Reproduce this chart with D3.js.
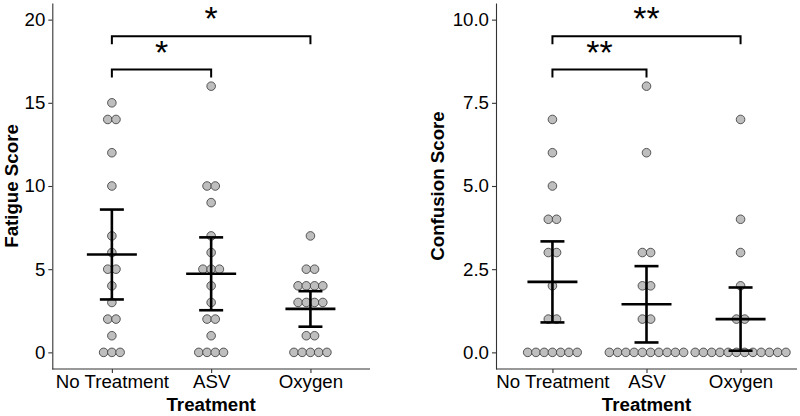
<!DOCTYPE html>
<html>
<head>
<meta charset="utf-8">
<script src="https://cdn.jsdelivr.net/npm/d3@7"></script>
<style>
  html, body { margin: 0; padding: 0; background: #fff; }
  svg { display: block; font-family: "Liberation Sans", Arial, Helvetica, sans-serif; }
</style>
</head>
<body>
<svg id="chart" width="800" height="416"></svg>
<script>
// ---- Data ----
const categories = ["No Treatment", "ASV", "Oxygen"];

const fatigueNoTreatment = [15,14,14,12,10,7,6,5,5,4,3,2,2,1,0,0,0];
const fatigueASV         = [16,10,10,9,7,6,5,5,5,4,3,2,2,1,0,0,0,0];
const fatigueOxygen      = [7,5,5,4,4,4,4,3,3,3,3,1,1,0,0,0,0,0];

const confusionNoTreatment = [7,6,5,4,4,3,3,2,1,1,0,0,0,0,0,0,0];
const confusionASV         = [8,6,3,3,2,2,1,1,0,0,0,0,0,0,0,0,0,0];
const confusionOxygen      = [7,4,3,2,1,1,0,0,0,0,0,0,0,0,0,0,0,0];

const fatigueTicks   = [0, 5, 10, 15, 20];
const confusionTicks = [0, 2.5, 5, 7.5, 10];

// significance comparisons: [from, to, bar level, label]
const fatigueSig   = [["No Treatment","ASV",17,"*"], ["No Treatment","Oxygen",19,"*"]];
const confusionSig = [["No Treatment","ASV",8.5,"**"], ["No Treatment","Oxygen",9.5,"**"]];

// t critical values (95%, two-sided) by degrees of freedom
const tCrit = {16: 2.120, 17: 2.110};

// ---- Drawing ----
const svg = d3.select("#chart");
const FONT = 18.7;

function panel(opts) {
  const g = svg.append("g");
  const x = d3.scalePoint().domain(categories).range([opts.x0, opts.x1]).padding(0.6);
  const y = d3.scaleLinear().domain(opts.yDomain).range([369, 3]);
  const series = opts.series;
  const spacing = 8.25, r = 4.3;

  // dots (stacked horizontally, centered)
  categories.forEach((c, ci) => {
    const vals = series[ci];
    const groups = d3.group(vals, v => v);
    groups.forEach((arr, v) => {
      const n = arr.length;
      arr.forEach((_, i) => {
        g.append("circle")
          .attr("cx", x(c) + (i - (n - 1) / 2) * spacing)
          .attr("cy", y(v))
          .attr("r", r)
          .attr("fill", "#bebebe")
          .attr("stroke", "#333")
          .attr("stroke-width", 0.8);
      });
    });
  });

  // mean and 95% CI
  categories.forEach((c, ci) => {
    const vals = series[ci];
    const n = vals.length;
    const m = d3.mean(vals);
    const half = tCrit[n - 1] * d3.deviation(vals) / Math.sqrt(n);
    const cx = x(c);
    const eg = g.append("g").attr("stroke", "#000").attr("stroke-width", 2.6).attr("fill", "none");
    eg.append("line").attr("x1", cx).attr("x2", cx).attr("y1", y(m - half)).attr("y2", y(m + half));
    eg.append("line").attr("x1", cx - 12).attr("x2", cx + 12).attr("y1", y(m + half)).attr("y2", y(m + half));
    eg.append("line").attr("x1", cx - 12).attr("x2", cx + 12).attr("y1", y(m - half)).attr("y2", y(m - half));
    eg.append("line").attr("x1", cx - 25).attr("x2", cx + 25).attr("y1", y(m)).attr("y2", y(m));
  });

  // significance brackets
  opts.sig.forEach(([a, b, lvl, lab]) => {
    const xa = x(a), xb = x(b), yl = y(lvl), drop = 8;
    g.append("path")
      .attr("d", `M${xa},${yl + drop}V${yl}H${xb}V${yl + drop}`)
      .attr("fill", "none").attr("stroke", "#000").attr("stroke-width", 2);
    g.append("text")
      .attr("x", (xa + xb) / 2).attr("y", yl - 6)
      .attr("text-anchor", "middle")
      .attr("font-size", 34)
      .attr("fill", "#000")
      .text(lab);
  });

  // axes
  const ya = g.append("g").attr("transform", `translate(${opts.x0},0)`)
    .call(d3.axisLeft(y).tickValues(opts.ticks).tickFormat(opts.fmt).tickSize(4).tickPadding(3).tickSizeOuter(0));
  const xa = g.append("g").attr("transform", `translate(0,369)`)
    .call(d3.axisBottom(x).tickSize(4).tickPadding(2).tickSizeOuter(0));
  [ya, xa].forEach(a => {
    a.select(".domain").attr("stroke", "#333").attr("stroke-width", 1.1);
    a.selectAll(".tick line").attr("stroke", "#333").attr("stroke-width", 1.1);
    a.selectAll(".tick text").attr("fill", "#000").attr("font-size", FONT)
      .attr("font-family", "Liberation Sans, Arial, sans-serif");
  });
  // extend x axis domain to meet y axis
  xa.select(".domain").attr("d", `M${opts.x0},0H${opts.x1}`);

  // titles
  g.append("text")
    .attr("x", (opts.x0 + opts.x1) / 2).attr("y", 411)
    .attr("text-anchor", "middle").attr("font-weight", "bold").attr("font-size", FONT)
    .text("Treatment");
  g.append("text")
    .attr("transform", `translate(${opts.titleX},186) rotate(-90)`)
    .attr("text-anchor", "middle").attr("font-weight", "bold").attr("font-size", FONT)
    .text(opts.yTitle);
}

panel({
  x0: 52.3, x1: 370, yDomain: [-1, 21],
  series: [fatigueNoTreatment, fatigueASV, fatigueOxygen],
  ticks: fatigueTicks, fmt: d3.format("d"),
  sig: fatigueSig, yTitle: "Fatigue Score", titleX: 18
});
panel({
  x0: 496, x1: 797, yDomain: [-0.5, 10.5],
  series: [confusionNoTreatment, confusionASV, confusionOxygen],
  ticks: confusionTicks, fmt: d3.format(".1f"),
  sig: confusionSig, yTitle: "Confusion Score", titleX: 444
});
</script>
</body>
</html>
